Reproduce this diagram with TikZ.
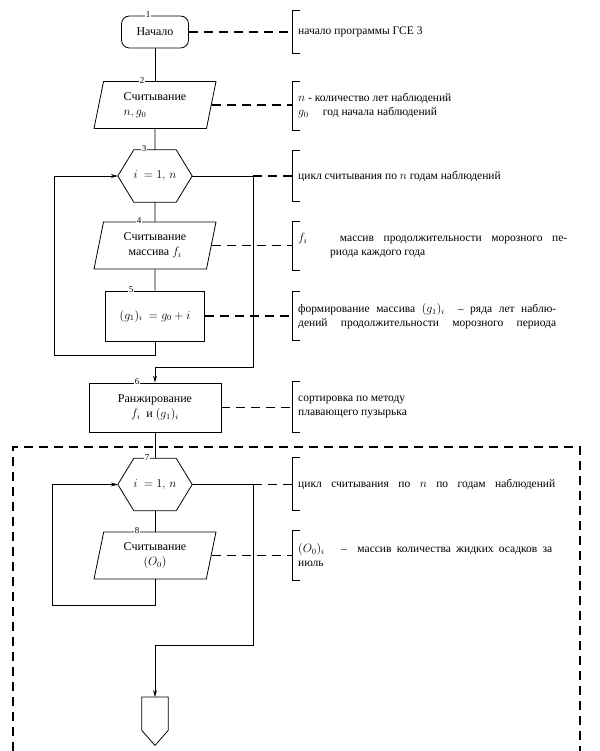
\documentclass[tikz,border=0pt]{standalone}
\usepackage{fontspec}
\setmainfont{Liberation Serif}
\usetikzlibrary{shapes.geometric,arrows.meta}

% one text line stretched to a given width
\newcommand{\jline}[2][258pt]{\makebox[#1][s]{#2}}

\begin{document}
\begin{tikzpicture}[x=1pt, y=-1pt,
    flow/.style={line width=0.8pt},
    link/.style={line width=1.1pt, dash pattern=on 9pt off 6pt},
    box/.style={draw, line width=0.8pt, align=center, inner sep=2pt,
      font=\fontsize{12}{15}\selectfont},
    io/.style={box, trapezium, trapezium left angle=72, trapezium right angle=108,
      trapezium stretches body, minimum width=122pt, minimum height=47pt},
    hexbox/.style={inner sep=0pt, minimum width=74pt, minimum height=52pt,
      font=\fontsize{12}{15}\selectfont},
    note/.style={anchor=west, align=left, inner xsep=6pt, inner ysep=0pt,
      font=\fontsize{11.5}{14}\selectfont},
    num/.style={fill=white, inner sep=1pt, font=\fontsize{9}{9}\selectfont},
    >={Stealth[length=7pt, width=4pt]}]
    \useasboundingbox (0,0) rectangle (599,751);

    % blocks of the chart
    \node[box, rounded corners=8pt, minimum width=67pt, minimum height=32pt] (n1) at (155,32) {Начало};
    \node[io, align=left] (n2) at (155,105) {Считывание\\ $n, g_0$};
    \node[hexbox] (n3) at (155,176) {$i\ = 1,\, n$};
    \node[io] (n4) at (155,245.5) {Считывание\\ массива $f_i$};
    \node[box, minimum width=99pt, minimum height=50pt] (n5) at (155,316) {$(g_1)_i\ = g_0 + i$};
    \node[box, minimum width=132pt, minimum height=49pt] (n6) at (155,407.5) {Ранжирование\\ $f_i$\ \ и $(g_1)_i$};
    \node[hexbox] (n7) at (155,484.5) {$i\ = 1,\, n$};
    \node[io] (n8) at (155,555.5) {Считывание\\ $(O_0)$};
    \node[inner sep=0pt, minimum width=26pt, minimum height=33pt, anchor=north] (n9) at (155,697) {};

    % hexagons and the off-page connector
    \foreach \h in {n3,n7}
      \draw[flow] (\h.west) -- ([xshift=16pt]\h.north west) -- ([xshift=-16pt]\h.north east)
        -- (\h.east) -- ([xshift=-16pt]\h.south east) -- ([xshift=16pt]\h.south west) -- cycle;
    \draw[flow] (n9.north west) -- (n9.north east) -- (n9.south east)
      -- ([yshift=-15pt]n9.south) -- (n9.south west) -- cycle;

    % block numbers on the top edges
    \foreach \k/\dx in {1/-7,2/-13,3/-11,4/-16,5/-24,6/-18,7/-8,8/-18}
      \node[num] (m\k) at ([xshift=\dx pt, yshift=1pt]n\k.north) {\k};

    % turning points of the flow lines
    \coordinate (l3) at (54,355);
    \coordinate (k3) at (253,367);
    \coordinate (j3) at (n3.east -| k3);
    \coordinate (l7) at (52,605);
    \coordinate (k7) at (253,645);
    \coordinate (j7) at (n7.east -| k7);

    % flow lines
    \draw[flow] (n1) -- (n2);
    \draw[flow] (n2) -- (n3);
    \draw[flow] (n3) -- (n4);
    \draw[flow] (n4) -- (n5);
    \draw[flow,->] (n5.south) |- (l3) |- (n3.west);
    \draw[flow,->] (n3.east) -| (k3) -| (n6.north);
    \draw[flow] (n6) -- (n7);
    \draw[flow] (n7) -- (n8);
    \draw[flow,->] (n8.south) |- (l7) |- (n7.west);
    \draw[flow,->] (n7.east) -| (k7) -| (n9.north);

    % comments
    \node[note, minimum height=43pt] (b1) at (292,32) {начало программы ГСЕ 3};
    \node[note, minimum height=48pt] (b2) at (292,106) {$n$ - количество лет наблюдений\\ $g_0$ \quad год начала наблюдений};
    \node[note, minimum height=50pt] (b3) at (292,176) {цикл считывания по $n$ годам наблюдений};
    \node[note, minimum height=48pt] (b4) at (292,246) {\jline[269pt]{$f_i$ \qquad массив продолжительности морозного пе-}\\ \hspace*{32pt}риода каждого года};
    \node[note, minimum height=48pt] (b5) at (292,316) {\jline{формирование массива $(g_1)_i$ \ -- ряда лет наблю-}\\ \jline{дений продолжительности морозного периода}};
    \node[note, minimum height=50pt] (b6) at (292,407) {сортировка по методу\\ плавающего пузырька};
    \node[note, minimum height=52pt] (b7) at (292,484) {\jline[257pt]{цикл считывания по $n$ по годам наблюдений}};
    \node[note, minimum height=49pt] (b8) at (292,555.5) {\jline[254pt]{$(O_0)_i$ \quad -- \ массив количества жидких осадков за}\\ июль};
    \foreach \b in {b1,b2,b3,b4,b5,b6,b7,b8}
      \draw[flow] ([xshift=8pt]\b.north west) -- (\b.north west) -- (\b.south west) -- ([xshift=8pt]\b.south west);

    % links to the comments
    \draw[link] (n1.east) -- (n1.east -| b1.west);
    \draw[link] (n2.east) -- (n2.east -| b2.west);
    \draw[link] (j3) -- (j3 -| b3.west);
    \draw[link] (n4.east) -- (n4.east -| b4.west);
    \draw[link] (n5.east) -- (n5.east -| b5.west);
    \draw[link] (n6.east) -- (n6.east -| b6.west);
    \draw[link] (j7) -- (j7 -| b7.west);
    \draw[link] (n8.east) -- (n8.east -| b8.west);

    % frame of the next part
    \draw[link] (13,751) -- (13,447) -- (580,447) -- (580,751);
\end{tikzpicture}
\end{document}
